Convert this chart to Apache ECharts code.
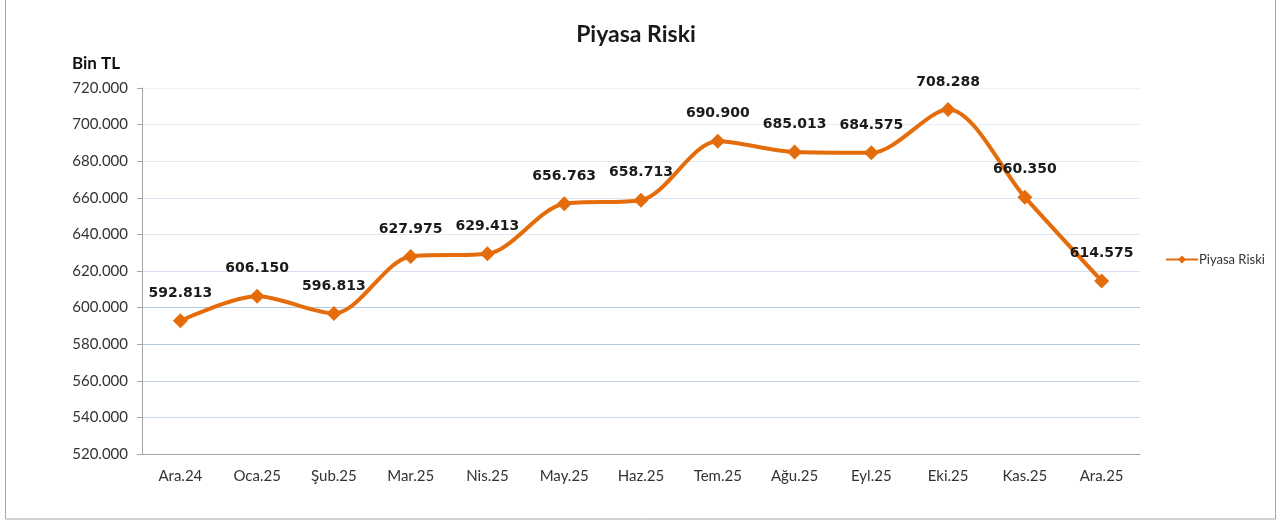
<!DOCTYPE html>
<html>
<head>
<meta charset="utf-8">
<title>Piyasa Riski</title>
<script src="https://cdn.jsdelivr.net/npm/echarts@6/dist/echarts.min.js"></script>
<style>
    html, body { margin: 0; padding: 0; background: #fff; }
    #chart { width: 1283px; height: 521px; }
</style>
</head>
<body>
<div id="chart"></div>
<script>
// Data (Bin TL)
const months = ['Ara.24', 'Oca.25', 'Şub.25', 'Mar.25', 'Nis.25', 'May.25', 'Haz.25',
    'Tem.25', 'Ağu.25', 'Eyl.25', 'Eki.25', 'Kas.25', 'Ara.25'];
const piyasaRiski = [592813, 606150, 596813, 627975, 629413, 656763, 658713,
    690900, 685013, 684575, 708288, 660350, 614575];

const FONT = 'Lato, "Open Sans", sans-serif';
const LABEL_FONT = '"DejaVu Sans", Verdana, sans-serif';

// 592813 -> "592.813"
const fmtDot = (v) => String(Math.round(v)).replace(/\B(?=(\d{3})+(?!\d))/g, '.');

// gridline tones, bottom to top (picture has stronger lines at 580/600)
const gridColors = ['#c8d5ea', '#c8d5ea', '#c3d2ea', '#b4c7e7', '#b4c7e7', '#d6e0f0',
    '#dde6f3', '#dde6f3', '#e3eaf5', '#e8eef7', '#eef2f9'];

const chart = echarts.init(document.getElementById('chart'));

chart.setOption({
    backgroundColor: '#fff',
    animation: false,
    title: {
        text: 'Piyasa Riski',
        left: 631,
        top: 18,
        textAlign: 'center',
        textStyle: { fontFamily: FONT, fontSize: 23, fontWeight: 'bold', color: '#1a1a1a' }
    },
    graphic: [
        {
            type: 'rect',
            shape: { x: 5.5, y: -5, width: 1270, height: 524 },
            style: { fill: 'none', stroke: '#a6a6a6', lineWidth: 1 },
            silent: true
        },
        {
            type: 'text',
            left: 72,
            top: 55,
            style: { text: 'Bin TL', fontFamily: FONT, fontSize: 17, fontWeight: 'bold', fill: '#111' }
        }
    ],
    legend: {
        data: ['Piyasa Riski'],
        left: 1160,
        top: 248,
        orient: 'vertical',
        itemWidth: 32,
        itemHeight: 10,
        itemGap: 4,
        textStyle: { fontFamily: FONT, fontSize: 13, color: '#333', padding: [0, 0, 0, -4] }
    },
    grid: { left: 142, right: 143, top: 88, bottom: 67 },
    xAxis: {
        type: 'category',
        data: months,
        boundaryGap: true,
        axisLine: { lineStyle: { color: '#a6a6a6' } },
        axisTick: { show: false },
        axisLabel: { fontFamily: FONT, fontSize: 15, color: '#333', margin: 15 }
    },
    yAxis: {
        type: 'value',
        min: 520000,
        max: 720000,
        interval: 20000,
        axisLine: { show: true, lineStyle: { color: '#a6a6a6' } },
        axisTick: { show: true, length: 5, lineStyle: { color: '#a6a6a6' } },
        axisLabel: { fontFamily: FONT, fontSize: 15, color: '#333', margin: 14, formatter: fmtDot },
        splitLine: { show: true, lineStyle: { color: gridColors, width: 1 } }
    },
    series: [{
        name: 'Piyasa Riski',
        type: 'line',
        data: piyasaRiski,
        smooth: 0.3,
        symbol: 'diamond',
        symbolSize: 15,
        lineStyle: { color: '#E46C0A', width: 4 },
        itemStyle: { color: '#E46C0A' },
        label: {
            show: true,
            position: 'top',
            distance: 13,
            fontFamily: LABEL_FONT,
            fontSize: 14,
            fontWeight: 'bold',
            color: '#1a1a1a',
            formatter: (p) => fmtDot(p.value)
        }
    }]
});
</script>
</body>
</html>
